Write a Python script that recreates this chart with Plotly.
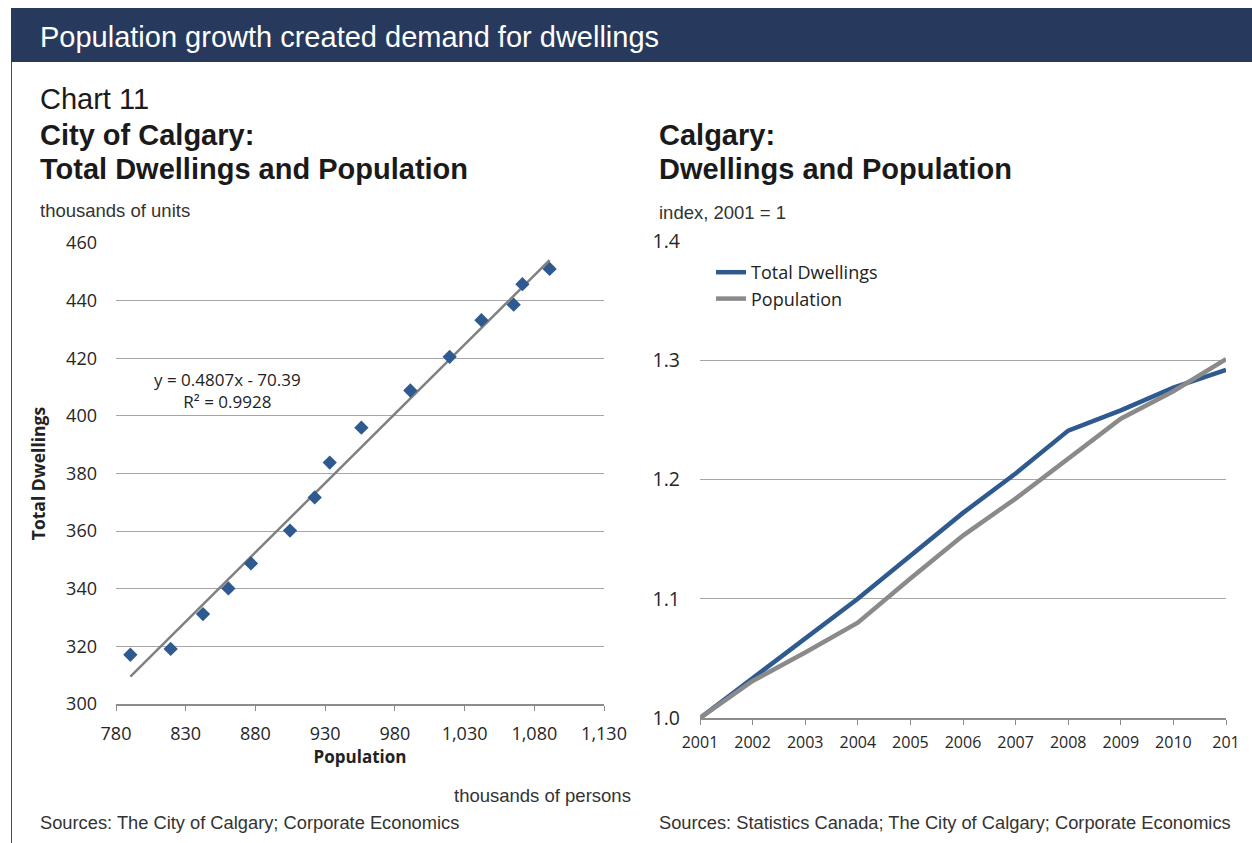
import plotly.graph_objects as go

# ---------------- data ----------------
population = [790.3, 819.2, 842.4, 860.6, 876.8, 904.8, 922.5, 933.3, 956.0,
              991.1, 1019.3, 1042.1, 1065.2, 1071.5, 1091.0]
dwellings = [317.1, 319.1, 331.2, 340.1, 348.8, 360.2, 371.7, 383.8, 395.9,
             408.8, 420.5, 433.2, 438.6, 445.7, 451.0]
trend_slope = 0.4807
trend_intercept = -70.39
trend_r2 = 0.9928

years = [2001, 2002, 2003, 2004, 2005, 2006, 2007, 2008, 2009, 2010, 2011]
year_labels = ["2001", "2002", "2003", "2004", "2005", "2006", "2007", "2008", "2009", "2010", "201"]
dwell_index = [1.000, 1.033, 1.066, 1.100, 1.136, 1.172, 1.205, 1.241, 1.258, 1.277, 1.292]
pop_index = [1.000, 1.031, 1.055, 1.080, 1.117, 1.153, 1.184, 1.218, 1.251, 1.274, 1.301]

W, H = 1252, 843
def px(x):
    return x / W
def py(y):
    return 1 - y / H

BLUE = "#2f5a8f"
GRAY = "#8a8a8a"
GRID = "#a6a6a6"
AXIS = "#8c8c8c"
TXT = "#222222"
TICKFONT = dict(family="Open Sans", size=18, color="#262626")

fig = go.Figure()

tx = [min(population), max(population)]
ty = [trend_slope * v + trend_intercept for v in tx]
fig.add_trace(go.Scatter(x=tx, y=ty, mode="lines", line=dict(color="#808080", width=2.5),
                         showlegend=False, hoverinfo="skip", xaxis="x", yaxis="y"))
fig.add_trace(go.Scatter(x=population, y=dwellings, mode="markers",
                         marker=dict(symbol="diamond", size=11, color=BLUE),
                         showlegend=False, xaxis="x", yaxis="y"))
fig.add_trace(go.Scatter(x=years, y=dwell_index, mode="lines", name="Total Dwellings",
                         line=dict(color=BLUE, width=4.5), xaxis="x2", yaxis="y2"))
fig.add_trace(go.Scatter(x=years, y=pop_index, mode="lines", name="Population",
                         line=dict(color=GRAY, width=4.5), xaxis="x2", yaxis="y2"))

fig.update_layout(
    width=W, height=H,
    margin=dict(l=0, r=0, t=0, b=0, pad=0, autoexpand=False),
    paper_bgcolor="white", plot_bgcolor="white",
    font=dict(family="Open Sans", color=TXT),
    xaxis=dict(domain=[px(116), px(604)], range=[780, 1130], tick0=780, dtick=50,
               tickformat=",", showgrid=False, zeroline=False, automargin=False,
               showline=True, linecolor=AXIS, linewidth=2,
               ticks="outside", ticklen=5, tickcolor=AXIS, tickwidth=1,
               tickfont=TICKFONT, ticklabelstandoff=7,
               title=dict(text="<b>Population</b>", font=dict(family="Open Sans", size=17, color=TXT),
                          standoff=0),
               anchor="y"),
    yaxis=dict(domain=[py(704), py(243)], range=[300, 460], dtick=20, automargin=False,
               showgrid=True, gridcolor=GRID, gridwidth=1, zeroline=False,
               showline=False, ticks="", tickfont=TICKFONT, ticklabelstandoff=18,
               title=dict(text="<b>Total Dwellings</b>", font=dict(family="Open Sans", size=17.5, color=TXT),
                          standoff=15),
               anchor="x"),
    xaxis2=dict(domain=[px(700), px(1226)], range=[2001, 2011], automargin=False,
                tickvals=years, ticktext=year_labels, showgrid=False, zeroline=False,
                showline=True, linecolor=AXIS, linewidth=2,
                ticks="outside", ticklen=5, tickcolor=AXIS, tickwidth=1,
                tickfont=dict(family="Open Sans", size=16, color="#262626"), ticklabelstandoff=4,
                anchor="y2"),
    yaxis2=dict(domain=[py(718), py(241)], range=[1.0, 1.4], dtick=0.1, tickformat=".1f",
                automargin=False,
                showgrid=True, gridcolor=GRID, gridwidth=1, zeroline=False,
                showline=False, ticks="", tickfont=dict(family="Open Sans", size=19.5, color="#262626"),
                ticklabelstandoff=19, anchor="x2"),
    legend=dict(x=px(711), y=py(254), xanchor="left", yanchor="top",
                font=dict(family="Open Sans", size=18, color=TXT),
                bgcolor="rgba(0,0,0,0)", tracegroupgap=0, itemwidth=30),
    showlegend=True,
)

fig.add_shape(type="rect", xref="paper", yref="paper", x0=px(11), x1=1, y0=py(62), y1=py(8),
              fillcolor="#273a5e", line=dict(width=0), layer="below")
fig.add_shape(type="line", xref="paper", yref="paper", x0=px(11.5), x1=px(11.5), y0=0, y1=py(62),
              line=dict(color="#3b4d70", width=1))

def text(x, y, s, size, color=TXT, family="Liberation Sans", xanchor="left"):
    fig.add_annotation(x=px(x), y=py(y), xref="paper", yref="paper", text=s, showarrow=False,
                       xanchor=xanchor, yanchor="middle",
                       font=dict(family=family, size=size, color=color))

text(38, 37, "Population growth created demand for dwellings", 29, color="white")
text(38, 99, "Chart 11", 29, color="#1a1a1a")
text(38, 135, "<b>City of Calgary:</b>", 29, color="#1a1a1a")
text(38, 169, "<b>Total Dwellings and Population</b>", 29, color="#1a1a1a")
text(657, 135, "<b>Calgary:</b>", 29, color="#1a1a1a")
text(657, 169, "<b>Dwellings and Population</b>", 29, color="#1a1a1a")
text(38, 211, "thousands of units", 18.5, color="#333333")
text(657, 213, "index, 2001 = 1", 18.5, color="#333333")
text(633, 795, "thousands of persons", 18.5, color="#333333", xanchor="right")
text(38, 822, "Sources: The City of Calgary; Corporate Economics", 18.3, color="#333333")
text(657, 822, "Sources: Statistics Canada; The City of Calgary; Corporate Economics", 18.3, color="#333333")

fig.add_annotation(x=px(227), y=py(391), xref="paper", yref="paper",
                   text=f"y = {trend_slope}x - {abs(trend_intercept)}<br>R² = {trend_r2}",
                   showarrow=False, align="center", xanchor="center", yanchor="middle",
                   font=dict(family="Open Sans", size=17, color=TXT))

fig.write_html("out.html")
